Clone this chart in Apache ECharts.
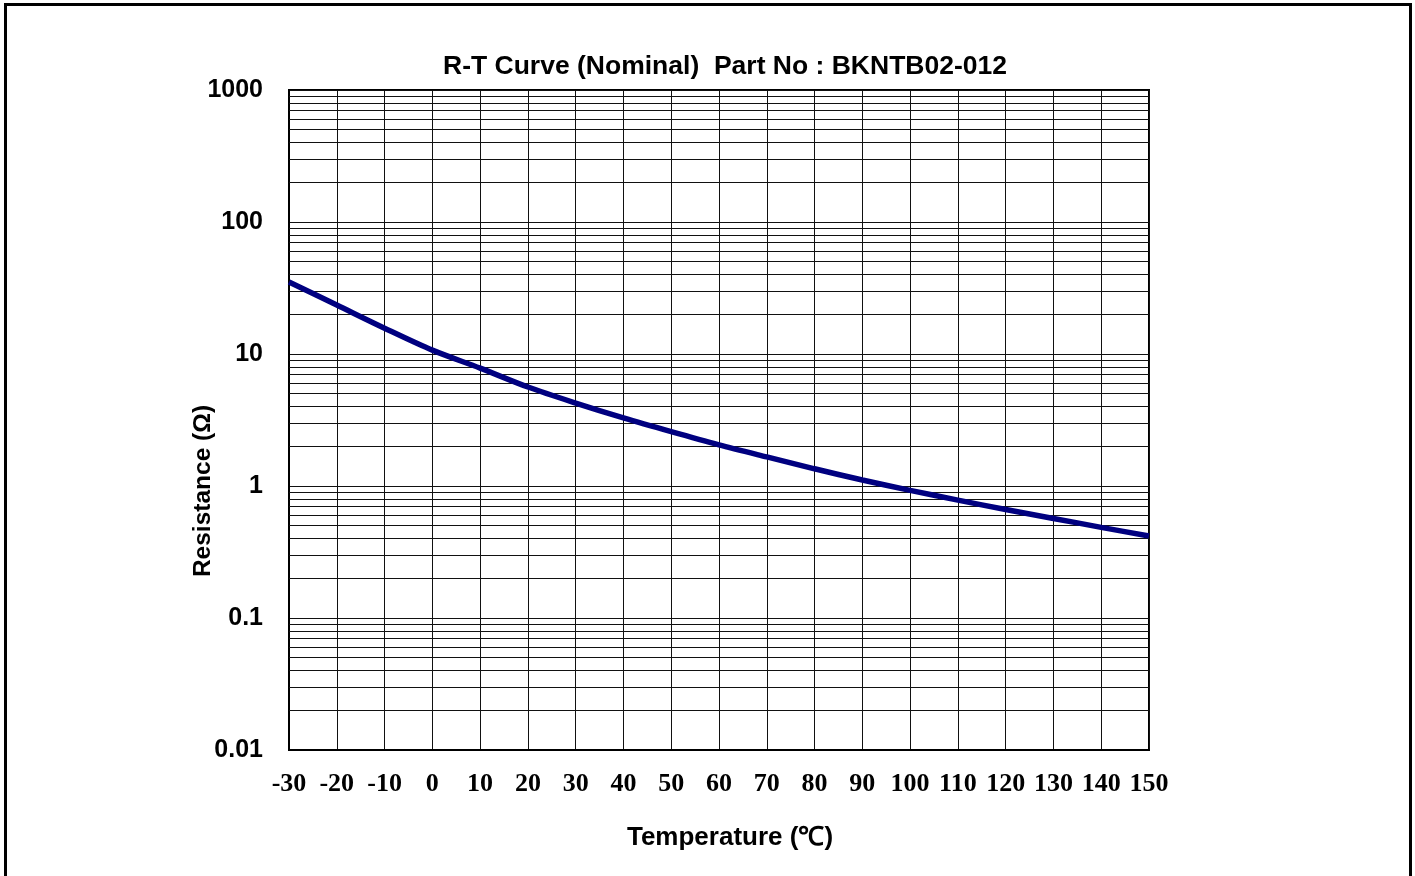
<!DOCTYPE html>
<html>
<head>
<meta charset="utf-8">
<script src="https://cdn.jsdelivr.net/npm/echarts@6/dist/echarts.min.js"></script>
<style>
html,body{margin:0;padding:0;background:#fff;}
#c{width:1415px;height:876px;}
</style>
</head>
<body>
<div id="c"></div>
<script>
// Temperature (°C) sample points
var temperatures = [-30,-20,-10,0,10,20,30,40,50,60,70,80,90,100,110,120,130,140,150];
// Nominal resistance (Ω)
var resistances = [35.1,23.5,15.7,10.7,7.82,5.62,4.25,3.28,2.58,2.05,1.66,1.35,1.11,0.927,0.782,0.664,0.568,0.486,0.418];
// Log-axis decade starts and minor multipliers used for minor grid lines
var decades = [0.01,0.1,1,10,100];
var minorMultipliers = [2,3,4,5,6,7,8,9];
var yTickLabels = ['0.01','0.1','1','10','100','1000'];

var chart = echarts.init(document.getElementById('c'));
var seriesData = temperatures.map(function(t,i){return [t,resistances[i]];});
var minorLines = [];
decades.forEach(function(d){
  minorMultipliers.forEach(function(m){
    minorLines.push({yAxis: parseFloat((d*m).toPrecision(6))});
  });
});

chart.setOption({
  backgroundColor:'#fff',
  animation:false,
  grid:{left:289, top:90, right:266, bottom:126, show:true, borderColor:'#000', borderWidth:2, backgroundColor:'transparent'},
  xAxis:{
    type:'value', min:-30, max:150, interval:10,
    axisLine:{show:true,onZero:false,lineStyle:{color:'#000',width:2}},
    axisTick:{show:false},
    axisLabel:{color:'#000', fontFamily:'Liberation Serif', fontWeight:'bold', fontSize:26, margin:21},
    splitLine:{show:true,lineStyle:{color:'#111',width:1}}
  },
  yAxis:{
    type:'log', logBase:10, min:0.01, max:1000,
    axisLine:{show:true,onZero:false,lineStyle:{color:'#000',width:2}},
    axisTick:{show:false},
    axisLabel:{color:'#000', fontFamily:'Liberation Sans', fontWeight:'bold', fontSize:25, margin:26,
      formatter:function(v){
        var idx = Math.round(Math.log10(v))+2;
        return yTickLabels[idx] !== undefined ? yTickLabels[idx] : '';
      }},
    splitLine:{show:true,lineStyle:{color:'#111',width:1}}
  },
  graphic:[
    {type:'rect', silent:true, shape:{x:5.5,y:4.5,width:1405,height:900}, style:{fill:'none',stroke:'#000',lineWidth:3}},
    {type:'text', x:725, y:67, style:{text:'R-T Curve (Nominal)  Part No : BKNTB02-012', fontFamily:'Liberation Sans', fontWeight:'bold', fontSize:26.5, fill:'#000', textAlign:'center', textVerticalAlign:'middle'}},
    {type:'text', x:730, y:838, style:{text:'Temperature (℃)', fontFamily:'Liberation Sans', fontWeight:'bold', fontSize:26, fill:'#000', textAlign:'center', textVerticalAlign:'middle'}},
    {type:'text', x:203, y:491, rotation:Math.PI/2, style:{text:'Resistance (Ω)', fontFamily:'Liberation Sans', fontWeight:'bold', fontSize:24.5, fill:'#000', textAlign:'center', textVerticalAlign:'middle'}}
  ],
  series:[
    {
      type:'line', data:[], silent:true,
      markLine:{silent:true, symbol:['none','none'], label:{show:false}, animation:false,
        lineStyle:{color:'#111', width:1, type:'solid'}, data:minorLines}
    },
    {
      type:'line', data:seriesData, smooth:0.3, showSymbol:false, symbol:'none',
      lineStyle:{color:'#000080', width:5.5}, z:5
    }
  ]
});
</script>
</body>
</html>
